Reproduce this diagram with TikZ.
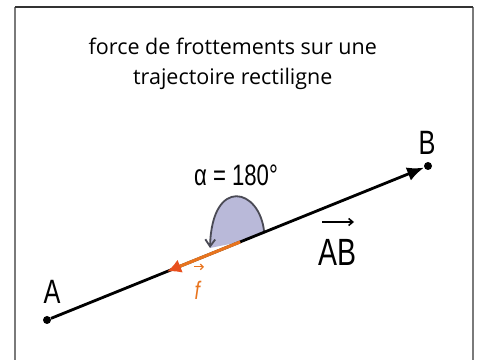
\documentclass[tikz,border=0pt]{standalone}
\usepackage{fontspec}
\setmainfont{Liberation Sans}
\newfontfamily\titlefont{Open Sans}
\usetikzlibrary{arrows.meta,positioning,calc}
\definecolor{frameGray}{HTML}{7A7A7A}
\definecolor{frameDark}{HTML}{333333}
\definecolor{frotOrange}{HTML}{E8741E}
\definecolor{tipOrange}{HTML}{E8501E}
\definecolor{angleFill}{HTML}{B9B9D9}
\definecolor{angleLine}{HTML}{4A4A55}
\tikzset{
  point/.style={circle,fill=black,inner sep=0pt,minimum size=0.2cm},
  lbl/.style={font=\fontsize{24}{24}\selectfont,xscale=0.75,transform shape,inner sep=1pt},
  title/.style={font=\titlefont\fontsize{15.3}{21}\selectfont,align=center},
}
\begin{document}
\begin{tikzpicture}
  \useasboundingbox (0,0) rectangle (12,9);
  % frame
  \draw[frameGray,line width=1.4pt] (0.375,-0.3) -- (0.375,8.825);
  \draw[frameGray,line width=1.4pt] (11.825,-0.3) -- (11.825,8.825);
  \draw[frameDark,line width=1.2pt] (0.375,8.825) -- (11.825,8.825);

  \node[title] (titre) at (5.82,7.4) {force de frottements sur une\\trajectoire rectiligne};

  \node[point] (A) at (1.175,1.0) {};
  \node[point] (B) at (10.7,4.85) {};
  \coordinate (O) at ($(A)!0.507!(B)$); % application point
  \coordinate (F) at ($(A)!0.315!(B)$); % tip of f
  \coordinate (R) at ($(A)!0.57!(B)$); % start of angle arc
  \coordinate (L) at (5.25,2.8);

  % angle alpha
  \fill[angleFill] (R) .. controls (6.5,4.3) and (5.3,4.6) .. (L) -- (O) -- cycle;
  \draw[angleLine,line width=1.3pt,-{Straight Barb[length=5pt,width=7pt]}]
       (R) .. controls (6.5,4.3) and (5.3,4.6) .. (L);

  % trajectory
  \draw[line width=2pt,-{Latex[length=12pt,width=10pt]}] (A) -- (B);
  % friction force
  \draw[frotOrange,line width=2.2pt,-{Latex[length=10pt,width=10pt,color=tipOrange]}] (O) -- (F);

  \node[lbl,font=\fontsize{21}{21}\selectfont] (alpha) at (5.9,4.625) {α = 180°};
  \node[lbl] (labA) at (1.3,1.7) {A};
  \node[lbl] (labB) at (10.675,5.425) {B};
  \node[lbl,font=\fontsize{27}{27}\selectfont] (AB) at (8.425,2.7) {AB};
  \draw[line width=1.1pt,-{Straight Barb[length=3pt,width=5pt]}] (8.05,3.45) -- (8.85,3.45);
  \node[lbl,frotOrange,font=\fontsize{18}{18}\selectfont] (f) at (4.95,1.75) {\textit{f}};
  \draw[frotOrange,line width=0.9pt,-{Straight Barb[length=2pt,width=4pt]}] (4.85,2.33) -- (5.1,2.33);
\end{tikzpicture}
\end{document}
